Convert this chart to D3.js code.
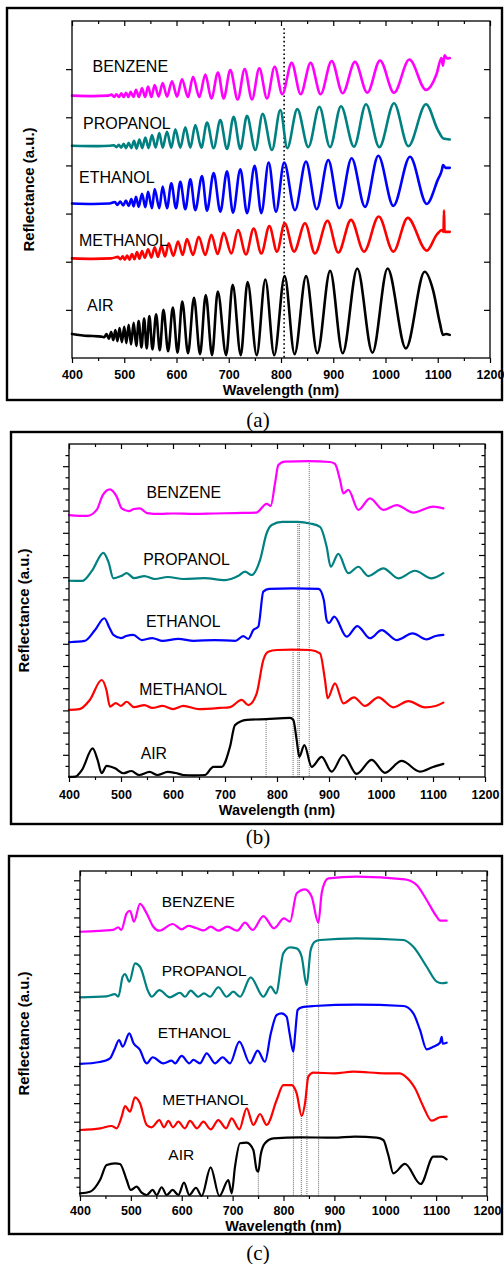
<!DOCTYPE html>
<html><head><meta charset="utf-8">
<script src="https://cdn.jsdelivr.net/npm/d3@7/dist/d3.min.js"></script>
<style>body{margin:0;background:#fff}svg{display:block}</style>
</head><body>
<svg id="chart" width="504" height="1264"></svg>
<script>
// ---------- data (wavelength nm, reflectance a.u.) ----------
const X_TICKS = [400,500,600,700,800,900,1000,1100,1200];
const X_MINOR = [450,550,650,750,850,950,1050,1150];
const LABELS = ["BENZENE","PROPANOL","ETHANOL","METHANOL","AIR"];
const CAPTIONS = ["(a)","(b)","(c)"];
const X_TITLE = "Wavelength (nm)";
const Y_TITLE = "Reflectance (a.u.)";

// panel (a)
const a_benz = [[400,5.45],[440,5.44],[468,5.45],[476,5.47],[480.5,5.42],[485,5.48],[489.7,5.42],[494.4,5.50],[499,5.42],[503.3,5.51],[508,5.42],[512.3,5.53],[517.5,5.42],[522.5,5.57],[528,5.42],[534,5.60],[540,5.42],[545.5,5.64],[552,5.42],[558.2,5.67],[565.9,5.43],[573.5,5.71],[581.8,5.43],[591.4,5.75],[601,5.43],[610.5,5.79],[622,5.42],[631.6,5.84],[643.7,5.42],[655.2,5.89],[666.7,5.39],[679.4,5.93],[690.3,5.39],[703,5.98],[717.1,5.37],[730.5,6.00],[744.5,5.37],[758.5,6.02],[773.2,5.39],[787.9,6.05],[802.5,5.48],[820.4,6.13],[837.6,5.48],[856.7,6.13],[875.9,5.48],[896.9,6.17],[918,5.50],[941.6,6.15],[965.2,5.51],[989.5,6.18],[1016.3,5.51],[1045.6,6.20],[1077.5,5.57],[1098,5.91],[1107,6.23],[1110,6.07],[1113,6.29],[1118,6.22],[1123,6.23]];
const a_prop = [[400,4.41],[450,4.40],[472,4.41],[480,4.42],[485,4.38],[489.5,4.43],[494,4.37],[498.9,4.45],[503.5,4.36],[508.5,4.47],[513.5,4.36],[518.7,4.51],[523.5,4.35],[528.9,4.54],[534.5,4.36],[540.4,4.58],[546.5,4.36],[553.1,4.63],[560,4.37],[567.1,4.67],[573.5,4.37],[581.8,4.70],[590.1,4.37],[597.8,4.75],[607.3,4.37],[616.9,4.79],[626.5,4.37],[636,4.84],[647.5,4.37],[658.4,4.89],[671.1,4.36],[683.9,4.94],[696.7,4.34],[709.4,5.01],[722.2,4.34],[734.9,5.03],[750.9,4.32],[764.9,5.07],[782.8,4.32],[798.7,5.15],[812,4.36],[831.2,5.17],[852.3,4.38],[873.4,5.22],[893.8,4.38],[914.8,5.23],[939.7,4.39],[962.7,5.27],[988.2,4.38],[1016.3,5.29],[1043.7,4.40],[1077.5,5.27],[1100,4.74],[1110.7,4.56],[1123,4.54]];
const a_etha = [[400,3.21],[440,3.20],[472,3.21],[482,3.24],[487,3.18],[492.5,3.25],[498,3.17],[503.3,3.27],[508.5,3.16],[513.6,3.30],[518,3.15],[522.5,3.35],[527.6,3.14],[534,3.41],[540.4,3.13],[545.5,3.45],[553.1,3.11],[558.2,3.51],[567.1,3.11],[573.5,3.56],[581.8,3.11],[590.1,3.63],[599,3.11],[607.3,3.66],[616.9,3.09],[626.5,3.71],[636,3.07],[648.8,3.78],[658.4,3.06],[671.1,3.84],[683.9,3.04],[696.7,3.88],[708.1,3.02],[722.2,3.92],[735,3.01],[749.6,3.99],[762.4,3.01],[776.4,4.06],[790.4,3.04],[806,4.06],[826.8,3.07],[847.8,4.08],[868.3,3.09],[890.5,4.11],[911.5,3.11],[935.2,4.15],[960.8,3.14],[986.2,4.20],[1015,3.16],[1046.9,4.18],[1079,3.20],[1100,3.70],[1108,3.91],[1110,4.01],[1115,3.95],[1123,3.95]];
const a_meth = [[400,2.07],[440,2.06],[475,2.07],[488,2.10],[492.5,2.05],[497,2.11],[501,2.04],[505.5,2.13],[510,2.04],[514.8,2.16],[519.5,2.05],[524.4,2.20],[529,2.06],[534,2.22],[539.5,2.08],[545.5,2.26],[552,2.09],[558.2,2.30],[564.5,2.10],[571,2.33],[578,2.11],[585,2.38],[594,2.12],[602.9,2.42],[611.8,2.14],[620,2.47],[631.6,2.14],[642.4,2.52],[655.2,2.14],[666.7,2.56],[678.8,2.16],[690.3,2.60],[705,2.17],[717.7,2.66],[733,2.15],[747.7,2.69],[762.4,2.17],[777.7,2.74],[792.3,2.21],[807,2.80],[825,2.21],[846,2.80],[865,2.17],[889,2.85],[909.7,2.19],[934,2.87],[958.9,2.21],[987,2.94],[1015,2.21],[1042.5,2.91],[1079,2.23],[1098,2.56],[1108,2.66],[1111,2.62],[1112,3.07],[1113,2.62],[1123,2.62]];
const a_air = [[400,0.50],[430,0.46],[450,0.45],[458,0.44],[462,0.43],[466,0.50],[470.5,0.40],[475,0.54],[479,0.37],[483,0.58],[487,0.35],[491,0.62],[495.5,0.33],[500,0.65],[504,0.31],[508.5,0.69],[513,0.28],[518,0.73],[523,0.25],[527.6,0.77],[533,0.22],[538,0.82],[543,0.20],[548,0.87],[554,0.18],[561,0.91],[568,0.16],[575,1.00],[584,0.14],[593,1.05],[602,0.11],[611,1.17],[622,0.10],[633.5,1.25],[645,0.08],[656,1.31],[668,0.06],[679,1.38],[695,0.06],[707.5,1.52],[723,0.06],[736,1.58],[753.5,0.06],[770,1.63],[787,0.06],[807,1.70],[826,0.08],[848,1.70],[869.5,0.10],[894,1.81],[918,0.10],[946,1.86],[975,0.11],[1004,1.86],[1039,0.20],[1075,1.79],[1091,1.41],[1104,0.73],[1110,0.48],[1116,0.50],[1123,0.48]];
const a_marks = [[806,6.85]];

// panel (b)
const b_benz = [[400,11.80],[435,11.76],[453.2,12.03],[465,12.70],[478.8,12.96],[491.7,12.63],[501.3,12.10],[515,11.98],[525,12.07],[536.5,12.10],[550,11.89],[575,11.85],[600,11.87],[640,11.85],[680,11.87],[720,11.89],[760,11.91],[780.1,12.30],[788,12.21],[796.2,13.23],[802.6,14.05],[815,14.21],[860,14.23],[901.9,14.19],[911.5,14.10],[921.2,13.38],[927.6,12.78],[937.2,12.93],[956.4,12.03],[978.8,12.55],[1004.5,12.03],[1030.1,12.25],[1062.2,11.91],[1100.6,12.18],[1119.9,12.10]];
const b_prop = [[400,8.84],[425,8.83],[445,9.32],[466,10.10],[476,9.68],[485.3,8.95],[500,9.05],[510.9,9.18],[525,8.96],[545,9.05],[565,8.92],[590,9.01],[620,8.92],[660,8.96],[700,8.87],[725,9.05],[738.5,9.25],[751.3,9.10],[767.3,9.77],[780.1,10.98],[789.7,11.35],[810,11.49],[840,11.49],[863.5,11.42],[882.7,11.27],[895.5,10.37],[903.2,9.47],[917.9,10.05],[937.2,9.18],[956.4,9.47],[975.6,9.05],[1004.5,9.40],[1033.3,8.95],[1065.4,9.29],[1097.4,8.95],[1119.9,9.18]];
const b_etha = [[400,6.07],[430,6.13],[450,6.62],[467.9,7.15],[478,6.71],[485.3,6.40],[500,6.26],[510,6.35],[523.7,6.40],[540,6.17],[560,6.26],[580,6.13],[610,6.22],[640,6.13],[680,6.17],[720,6.13],[735,6.35],[745,6.22],[754.5,6.62],[764.1,6.77],[773.7,8.35],[785,8.47],[830,8.50],[880,8.47],[890,7.97],[895.5,7.07],[900,6.94],[910,7.22],[934,6.32],[954.5,6.80],[978.8,6.25],[1001.3,6.62],[1030.1,6.17],[1060.9,6.47],[1087.8,6.20],[1105,6.35],[1119.9,6.40]];
const b_meth = [[400,3.02],[420,3.06],[440,3.47],[462.8,4.37],[472,3.92],[478.8,3.17],[490,3.33],[500,3.20],[510.9,3.39],[525,3.15],[545,3.24],[560,3.11],[580,3.20],[600,3.06],[620,3.20],[650,3.06],[690,3.11],[710,3.15],[732,3.47],[744.9,3.24],[761,3.77],[773.7,5.27],[783.3,5.64],[800,5.72],[830,5.74],[863.5,5.72],[882.7,5.57],[892.3,4.37],[897.4,3.55],[911.5,4.22],[927.6,3.32],[948.1,3.59],[969.2,3.20],[994.9,3.59],[1023.7,3.14],[1052.6,3.42],[1084.6,3.14],[1105,3.20],[1119.9,3.35]];
const b_air = [[400,0.01],[412,0.02],[425,0.32],[445.5,1.29],[455,0.77],[462.8,0.17],[472.4,0.50],[488.5,0.39],[504.5,0.17],[520,0.27],[535,0.09],[555,0.23],[570,0.09],[590,0.23],[605,0.18],[620,0.09],[640,0.07],[661.5,0.09],[677.6,0.46],[693.6,0.46],[709.6,1.36],[719.2,2.34],[741.7,2.57],[780,2.61],[825,2.66],[831.4,2.57],[837.8,1.67],[842.9,0.91],[852.6,1.44],[866.7,0.46],[885.9,0.91],[905,0.24],[927.6,0.99],[953.2,0.14],[982,0.77],[1007.7,0.19],[1039.7,0.73],[1075,0.24],[1100,0.45],[1119.9,0.59]];
const b_marks = [[779,2.57],[831,5.72],[840,11.49],[843,11.49],[862,14.23]];

// panel (c)
const c_benz = [[400,28.46],[465,28.65],[475.3,28.94],[481,28.65],[491.7,30.44],[498.3,30.72],[506.1,29.54],[517.9,31.45],[531,30.44],[544.1,29.00],[555.9,28.57],[582.1,29.29],[599.8,28.72],[612.9,29.08],[629.3,28.83],[643,28.60],[656.8,29.00],[671.9,28.57],[689.6,29.00],[709.3,28.57],[724.3,29.43],[739.4,28.65],[760.4,30.15],[781.3,28.83],[801,29.90],[812.8,29.54],[825.9,32.60],[842.3,33.03],[855.4,32.23],[868.5,29.43],[875,32.60],[881.6,33.85],[888.1,34.21],[943.8,34.39],[1038.8,34.10],[1061.8,33.49],[1081.4,31.88],[1101.1,30.08],[1107.6,29.65],[1120.7,29.65]];
const c_prop = [[400,21.40],[452,21.50],[468.8,21.75],[475.3,21.46],[483.9,23.62],[488.5,23.91],[497,23.08],[508.1,25.06],[518,24.69],[534.3,22.00],[540.9,21.46],[555.9,22.18],[576.9,21.40],[596.6,21.89],[606.4,21.46],[617.5,22.11],[632.6,21.46],[643.7,21.83],[655.5,21.46],[671.9,22.48],[688.3,21.46],[701.4,22.00],[714.5,21.46],[735.5,23.55],[760.4,21.46],[774.8,22.54],[785.3,21.83],[799.7,26.14],[812.8,26.78],[825.9,26.67],[835.7,25.77],[845.5,22.72],[853.4,26.49],[861.9,27.39],[871.7,27.57],[943.8,27.75],[1035.5,27.57],[1055.2,26.85],[1081.4,24.69],[1101.1,23.08],[1110.9,22.91],[1120.7,22.97]];
const c_etha = [[400,14.22],[439,14.43],[459,14.83],[468,15.80],[476.7,16.80],[483.9,16.08],[497,17.52],[505,16.48],[518,15.72],[527.8,14.46],[531,14.29],[542.8,14.94],[563.8,14.29],[580.2,14.57],[587,14.29],[599.8,15.08],[614.9,14.29],[622.8,14.65],[635.9,14.29],[649,15.37],[665.4,14.29],[680.4,14.94],[694.8,14.29],[713.2,16.62],[734.2,14.29],[749.2,15.65],[763.6,14.46],[775,17.50],[786.6,19.49],[796.4,19.67],[806,19.31],[812,17.50],[819.3,15.54],[823,17.50],[827.8,20.03],[835.7,20.32],[860,20.46],[943.8,20.60],[1035.5,20.46],[1055.2,19.67],[1068.3,17.88],[1081.4,15.80],[1094.5,16.08],[1107.6,16.51],[1110.9,17.15],[1113,16.40],[1120.7,16.51]];
const c_meth = [[400,7.11],[440,7.29],[462.2,7.54],[472,7.29],[481.9,8.54],[488.5,9.69],[498.3,9.08],[508.1,10.63],[518,9.98],[531,7.65],[540.9,7.40],[556,8.18],[565,7.40],[573.6,8.08],[583,7.40],[593.3,8.00],[606,7.29],[616.2,8.08],[630,7.29],[642.4,8.00],[657,7.18],[671.9,8.18],[687,7.29],[698.1,8.37],[713.2,7.18],[727.6,9.44],[740.7,7.65],[753.8,8.83],[766.9,7.65],[786.6,10.34],[799.7,11.95],[816,11.95],[825.9,11.06],[835.7,8.62],[842.3,9.98],[848.8,12.85],[858.6,13.28],[900,13.21],[937.3,13.39],[1000,13.21],[1029,13.21],[1038.8,12.92],[1058.5,11.60],[1074.9,9.62],[1091.2,8.11],[1107.6,8.48],[1120.7,8.54]];
const c_air = [[400,0.29],[419.7,0.46],[439.3,1.72],[452.4,3.34],[468.8,3.52],[478.6,3.45],[491.7,1.72],[499.6,0.65],[511.4,1.00],[521.2,0.36],[531,0.11],[542.8,0.65],[550.7,0.11],[560.5,0.94],[570.4,0.11],[582.1,0.65],[593.3,0.11],[604.4,1.43],[614.9,0.11],[628,0.89],[639.1,0.00],[656.8,3.09],[673.9,0.00],[691.6,1.72],[698.1,0.29],[704.7,3.16],[714.5,5.68],[727.6,5.74],[740.7,4.95],[747.3,2.80],[750.5,2.62],[755.1,4.42],[763.6,5.68],[780,6.21],[832.4,6.32],[898,6.28],[940.5,6.39],[983.1,6.28],[996.2,6.03],[1006,4.42],[1015.9,2.44],[1038.8,3.45],[1069.6,1.29],[1094.5,4.23],[1110.9,4.23],[1120.7,3.95]];
const c_marks = [[750.5,2.62],[819.5,15.54],[835,8.62],[846,22.72],[869,29.43]];

// ---------- styles / layout ----------
const COLORS = ["#ff00ff","#008080","#0000ff","#ff0000","#000000"];
const SANS = "Arial, 'Liberation Sans', Helvetica, sans-serif";
const SERIF = "'Times New Roman', 'Liberation Serif', serif";

const panels = [
  {box:[7,8,502,400], L:72, T:21, R:490, B:358, ymax:7, yMajor:d3.range(1,7), yMinor:[],
   series:[a_benz,a_prop,a_etha,a_meth,a_air], marks:a_marks, markStyle:{c:"#000",w:1.6,d:"1.6,2.6"},
   sw:2.6, lblSize:16, lbl:[[92.5,66.7],[83,123],[79,177],[79,240.7],[87,305]],
   xlabY:374.5, xtitleY:389.5, ytitleX:29, capY:420},
  {box:[11,432,502,824], L:69, T:444, R:485, B:777, ymax:15, yMajor:d3.range(1,15), yMinor:d3.range(0.5,15,1),
   series:[b_benz,b_prop,b_etha,b_meth,b_air], marks:b_marks, markStyle:{c:"#444",w:0.8,d:"1,1"},
   sw:2.2, lblSize:15.8, lbl:[[146.5,492.7],[143.3,559.3],[146,621],[139.3,689.3],[140.7,753.3]],
   xlabY:794.5, xtitleY:809.5, ytitleX:24, capY:837},
  {box:[9,856,502,1234], L:80, T:871, R:487, B:1196, ymax:35, yMajor:d3.range(2,35,2), yMinor:d3.range(1,35,2),
   series:[c_benz,c_prop,c_etha,c_meth,c_air], marks:c_marks, markStyle:{c:"#444",w:0.8,d:"1,1"},
   sw:2.2, lblSize:15.5, lbl:[[161.7,901.7],[161.7,970.7],[157.7,1032.7],[162.3,1099.3],[168.3,1154.3]],
   xlabY:1211, xtitleY:1226, ytitleX:24, capY:1253}
];

const svg = d3.select("#chart");

function styleAxis(sel){
  sel.select(".domain").remove();
  sel.selectAll("line").attr("stroke","#000").attr("stroke-width",1.2);
  sel.selectAll("text").attr("font-family",SANS).attr("font-weight","bold").attr("font-size",12.5).attr("fill","#000");
}

panels.forEach((p,pi)=>{
  const g = svg.append("g");
  g.append("rect").attr("x",p.box[0]).attr("y",p.box[1])
    .attr("width",p.box[2]-p.box[0]).attr("height",p.box[3]-p.box[1])
    .attr("fill","none").attr("stroke","#000").attr("stroke-width",2.4);

  const x = d3.scaleLinear().domain([400,1200]).range([p.L,p.R]);
  const y = d3.scaleLinear().domain([0,p.ymax]).range([p.B,p.T]);

  // guide lines
  p.marks.forEach(m=>{
    g.append("line").attr("x1",x(m[0])).attr("x2",x(m[0])).attr("y1",y(m[1])).attr("y2",p.B)
      .attr("stroke",p.markStyle.c).attr("stroke-width",p.markStyle.w).attr("stroke-dasharray",p.markStyle.d);
  });

  const line = d3.line().x(d=>x(d[0])).y(d=>y(d[1])).curve(d3.curveMonotoneX);
  p.series.forEach((s,i)=>{
    g.append("path").attr("d",line(s)).attr("fill","none").attr("stroke",COLORS[i])
      .attr("stroke-width",p.sw).attr("stroke-linejoin","round").attr("stroke-linecap","round");
  });

  // frame
  g.append("rect").attr("x",p.L).attr("y",p.T).attr("width",p.R-p.L).attr("height",p.B-p.T)
    .attr("fill","none").attr("stroke","#000").attr("stroke-width",1.3);

  const pad = (p.xlabY - p.B) - 4.4 - 5;
  g.append("g").attr("transform",`translate(0,${p.B})`)
    .call(d3.axisBottom(x).tickValues(X_TICKS).tickSize(5).tickPadding(pad).tickFormat(d3.format("d"))).call(styleAxis);
  g.append("g").attr("transform",`translate(0,${p.B})`)
    .call(d3.axisBottom(x).tickValues(X_MINOR).tickSize(3).tickFormat("")).call(styleAxis);
  g.append("g").attr("transform",`translate(0,${p.T})`)
    .call(d3.axisTop(x).tickValues(X_TICKS).tickSize(-5).tickFormat("")).call(styleAxis);
  g.append("g").attr("transform",`translate(0,${p.T})`)
    .call(d3.axisTop(x).tickValues(X_MINOR).tickSize(-3).tickFormat("")).call(styleAxis);
  g.append("g").attr("transform",`translate(${p.L},0)`)
    .call(d3.axisLeft(y).tickValues(p.yMajor).tickSize(6).tickFormat("")).call(styleAxis);
  g.append("g").attr("transform",`translate(${p.L},0)`)
    .call(d3.axisLeft(y).tickValues(p.yMinor).tickSize(3.5).tickFormat("")).call(styleAxis);
  g.append("g").attr("transform",`translate(${p.R},0)`)
    .call(d3.axisRight(y).tickValues(p.yMajor).tickSize(-6).tickFormat("")).call(styleAxis);
  g.append("g").attr("transform",`translate(${p.R},0)`)
    .call(d3.axisRight(y).tickValues(p.yMinor).tickSize(-3.5).tickFormat("")).call(styleAxis);

  // titles
  g.append("text").attr("x",(p.L+p.R)/2).attr("y",p.xtitleY).attr("dy","0.35em")
    .attr("text-anchor","middle").attr("font-family",SANS).attr("font-weight","bold").attr("font-size",14.5)
    .text(X_TITLE);
  g.append("text").attr("transform",`translate(${p.ytitleX},${(p.T+p.B)/2}) rotate(-90)`).attr("dy","0.35em")
    .attr("text-anchor","middle").attr("font-family",SANS).attr("font-weight","bold").attr("font-size",15)
    .text(Y_TITLE);

  // series labels
  LABELS.forEach((t,i)=>{
    g.append("text").attr("x",p.lbl[i][0]).attr("y",p.lbl[i][1]).attr("dy","0.36em")
      .attr("font-family",SANS).attr("font-size",p.lblSize).attr("fill","#000").text(t);
  });

  // caption
  svg.append("text").attr("x",258).attr("y",p.capY).attr("dy","0.35em").attr("text-anchor","middle")
    .attr("font-family",SERIF).attr("font-size",21).text(CAPTIONS[pi]);
});
</script>
</body></html>
